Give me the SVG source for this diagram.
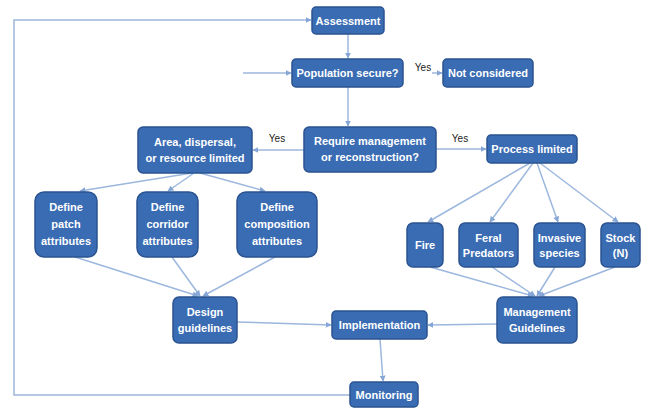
<svg xmlns="http://www.w3.org/2000/svg" width="645" height="410" viewBox="0 0 645 410">
<defs>
<marker id="ah" viewBox="0 0 10 10" refX="9" refY="5" markerWidth="6" markerHeight="6" orient="auto" markerUnits="userSpaceOnUse">
<path d="M0,0 L10,5 L0,10 z" fill="#86a6d6"/>
</marker>
</defs>
<style>
.bg{fill:#ffffff}
.n rect{fill:#3a6cb4;stroke:#2a5390;stroke-width:1.5}
.n text{fill:#ffffff;font-family:"Liberation Sans",Arial,sans-serif;font-size:11px;font-weight:bold;text-anchor:middle}
.c line,.c polyline{stroke:#9cb7de;stroke-width:1.5;fill:none;marker-end:url(#ah)}
.lbl{fill:#222222;font-family:"Liberation Sans",Arial,sans-serif;font-size:10px;text-anchor:middle}
</style>
<rect class="bg" x="0" y="0" width="645" height="410"/>
<g id="connectors" class="c">
<polyline points="350,395 14,395 14,20 311,20"/>
<line x1="348" y1="34" x2="348" y2="58"/>
<line x1="243" y1="73" x2="291" y2="73"/>
<line x1="432" y1="73" x2="442" y2="73"/>
<line x1="348" y1="87" x2="348" y2="126"/>
<line x1="304" y1="150" x2="253" y2="150"/>
<line x1="436" y1="149" x2="486" y2="149"/>
<line x1="192" y1="173" x2="80" y2="191"/>
<line x1="194" y1="173" x2="168" y2="191"/>
<line x1="200" y1="173" x2="265" y2="191"/>
<line x1="530" y1="163" x2="428" y2="222"/>
<line x1="533" y1="163" x2="490" y2="222"/>
<line x1="537" y1="163" x2="558" y2="222"/>
<line x1="540" y1="163" x2="618" y2="222"/>
<line x1="75" y1="257" x2="198" y2="296"/>
<line x1="172" y1="257" x2="200" y2="296"/>
<line x1="275" y1="257" x2="203" y2="296"/>
<line x1="430" y1="267" x2="533" y2="296"/>
<line x1="492" y1="267" x2="535" y2="296"/>
<line x1="555" y1="267" x2="537" y2="296"/>
<line x1="615" y1="267" x2="539" y2="296"/>
<line x1="237" y1="322" x2="331" y2="325"/>
<line x1="497" y1="324" x2="428" y2="325"/>
<line x1="380" y1="339" x2="383" y2="381"/>
</g>
<text class="lbl" x="423" y="71">Yes</text>
<text class="lbl" x="277" y="142">Yes</text>
<text class="lbl" x="460" y="142">Yes</text>
<g id="assessment" class="n"><rect x="312" y="7" width="72" height="27" rx="4"/><text x="348" y="24.5">Assessment</text></g>
<g id="population" class="n"><rect x="292" y="59" width="111" height="28" rx="4"/><text x="347.5" y="77">Population secure?</text></g>
<g id="not-considered" class="n"><rect x="443" y="59" width="90" height="28" rx="4"/><text x="488" y="77">Not considered</text></g>
<g id="require" class="n"><rect x="304" y="127" width="132" height="45" rx="5"/><text x="370" y="145">Require management</text><text x="370" y="161">or reconstruction?</text></g>
<g id="area" class="n"><rect x="138" y="127" width="114" height="46" rx="5"/><text x="195" y="146">Area, dispersal,</text><text x="195" y="162">or resource limited</text></g>
<g id="process" class="n"><rect x="487" y="135" width="90" height="28" rx="4"/><text x="532" y="153">Process limited</text></g>
<g id="patch" class="n"><rect x="35" y="192" width="62" height="65" rx="9"/><text x="66" y="211">Define</text><text x="66" y="228">patch</text><text x="66" y="245">attributes</text></g>
<g id="corridor" class="n"><rect x="137" y="192" width="61" height="65" rx="9"/><text x="167.5" y="211">Define</text><text x="167.5" y="228">corridor</text><text x="167.5" y="245">attributes</text></g>
<g id="composition" class="n"><rect x="237" y="192" width="80" height="65" rx="9"/><text x="277" y="211">Define</text><text x="277" y="228">composition</text><text x="277" y="245">attributes</text></g>
<g id="fire" class="n"><rect x="407" y="223" width="36" height="44" rx="6"/><text x="425" y="249">Fire</text></g>
<g id="feral" class="n"><rect x="459" y="223" width="59" height="44" rx="6"/><text x="488.5" y="242">Feral</text><text x="488.5" y="257">Predators</text></g>
<g id="invasive" class="n"><rect x="534" y="223" width="51" height="44" rx="6"/><text x="559.5" y="242">Invasive</text><text x="559.5" y="257">species</text></g>
<g id="stock" class="n"><rect x="601" y="223" width="39" height="44" rx="6"/><text x="620.5" y="242">Stock</text><text x="620.5" y="257">(N)</text></g>
<g id="design" class="n"><rect x="173" y="297" width="64" height="46" rx="6"/><text x="205" y="316">Design</text><text x="205" y="332">guidelines</text></g>
<g id="management" class="n"><rect x="497" y="297" width="80" height="46" rx="6"/><text x="537" y="316">Management</text><text x="537" y="332">Guidelines</text></g>
<g id="implementation" class="n"><rect x="332" y="311" width="95" height="28" rx="4"/><text x="379.5" y="329">Implementation</text></g>
<g id="monitoring" class="n"><rect x="350" y="382" width="68" height="25" rx="4"/><text x="384" y="398.5">Monitoring</text></g>
</svg>
